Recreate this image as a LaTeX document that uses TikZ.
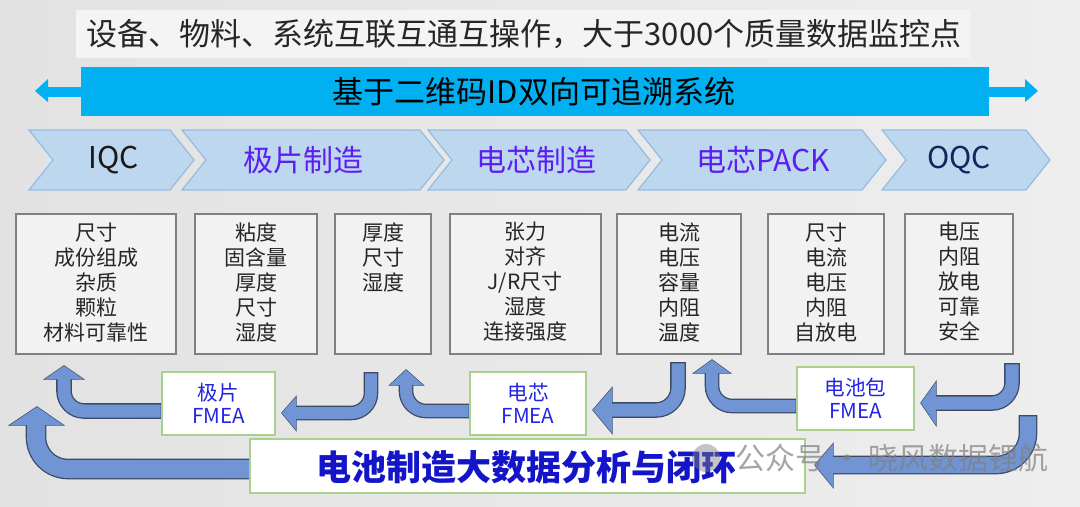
\documentclass[tikz,border=0pt]{standalone}
\usepackage{fontspec}
\setmainfont{Noto Sans CJK SC}
\usetikzlibrary{fit}
\definecolor{bgA}{RGB}{226,226,226}
\definecolor{bgB}{RGB}{238,238,238}
\definecolor{topfill}{RGB}{244,244,244}
\definecolor{barblue}{RGB}{0,176,240}
\definecolor{chevfill}{RGB}{189,215,238}
\definecolor{chevline}{RGB}{150,188,226}
\definecolor{boxfill}{RGB}{242,242,242}
\definecolor{boxline}{RGB}{128,128,128}
\definecolor{arrowfill}{RGB}{112,148,212}
\definecolor{arrowline}{RGB}{60,74,102}
\definecolor{fmealine}{RGB}{169,209,142}
\definecolor{fmeatext}{RGB}{36,36,228}
\definecolor{bigtext}{RGB}{20,20,200}
\definecolor{violet}{RGB}{92,30,242}
\definecolor{navy}{RGB}{19,39,94}
\definecolor{darktext}{RGB}{38,38,38}
\newcommand{\fs}[2]{\fontsize{#1}{#2}\selectfont}
\newcommand{\chev}[2]{\filldraw[chevstyle] (#1,130) -- (#2,130) -- (#2+24,160) -- (#2,190) -- (#1,190) -- (#1+24,160) -- cycle;}
\newcommand{\fatarrow}[6]{%
  \draw[line width=#1+1.3pt, draw=arrowline, rounded corners=#2] #3;
  \filldraw[fill=arrowfill, draw=arrowline, line width=0.65pt, line join=miter] #5 -- #4 -- #6 -- cycle;
  \draw[line width=#1, draw=arrowfill, rounded corners=#2, shorten <=0.65pt] #3;
  \fill[arrowfill] #5 -- #4 -- #6 -- cycle;}
\tikzset{
  chevstyle/.style={fill=chevfill, draw=chevline, line width=0.6pt},
  databox/.style={fill=boxfill, draw=boxline, line width=0.8pt, inner sep=0pt},
  datatext/.style={anchor=north, align=center, inner sep=0pt, text=darktext, font=\fs{10.5}{12.5}},
  fmeabox/.style={fill=white, draw=fmealine, line width=0.8pt, inner sep=0pt},
  fmeatxt/.style={align=center, inner sep=0pt, text=fmeatext, font=\fs{10.3}{11.5}},
  chevtext/.style={font=\fs{15}{18}, inner sep=0pt},
}
\begin{document}
\begin{tikzpicture}[x=0.5pt,y=-0.5pt]
\useasboundingbox (0,0) rectangle (1080,507);
\shade[left color=bgA, right color=bgB] (0,0) rectangle (1080,507);

% top statement
\node[fit={(76,10) (970,58)}, fill=topfill, inner sep=0pt] (topbox) {};
\node[font=\fs{15.5}{18}, text=darktext, inner sep=0pt] (toptext) at (524,34) {设备、物料、系统互联互通互操作，大于3000个质量数据监控点};

% traceability bar
\fill[barblue] (48,87) rectangle (82,97);
\fill[barblue] (48,79) -- (35,91) -- (48,102) -- cycle;
\fill[barblue] (988,87) rectangle (1026,97);
\fill[barblue] (1025,79) -- (1038,91) -- (1025,102) -- cycle;
\node[fit={(81,67) (989,116)}, fill=barblue, inner sep=0pt] (bar) {};
\node[font=\fs{15.5}{18}, text=black, inner sep=0pt] (bartext) at (534,92) {基于二维码ID双向可追溯系统};

% process chevrons
\chev{29}{170}
\chev{182}{420}
\chev{428}{626}
\chev{638}{862}
\chev{882}{1026}
\node[chevtext, text=black!90] (c1) at (114,160) {IQC};
\node[chevtext, text=violet] (c2) at (303,160) {极片制造};
\node[chevtext, text=violet] (c3) at (536,160) {电芯制造};
\node[chevtext, text=violet] (c4) at (763,160) {电芯PACK};
\node[chevtext, text=navy] (c5) at (959,160) {OQC};

% data boxes
\node[databox, fit={(16,214) (176,354)}] (b1) {};
\node[databox, fit={(195,214) (317,354)}] (b2) {};
\node[databox, fit={(335,214) (431,354)}] (b3) {};
\node[databox, fit={(450,214) (601,354)}] (b4) {};
\node[databox, fit={(617,214) (741,354)}] (b5) {};
\node[databox, fit={(768,214) (884,354)}] (b6) {};
\node[databox, fit={(905,214) (1013,354)}] (b7) {};
\node[datatext] (t1) at (96,222) {尺寸\\成份组成\\杂质\\颗粒\\材料可靠性};
\node[datatext] (t2) at (256,222) {粘度\\固含量\\厚度\\尺寸\\湿度};
\node[datatext] (t3) at (383,222) {厚度\\尺寸\\湿度};
\node[datatext] (t4) at (525,222) {张力\\对齐\\J/R尺寸\\湿度\\连接强度};
\node[datatext] (t5) at (679,222) {电流\\电压\\容量\\内阻\\温度};
\node[datatext] (t6) at (826,222) {尺寸\\电流\\电压\\内阻\\自放电};
\node[datatext] (t7) at (959,222) {电压\\内阻\\放电\\可靠\\安全};

% feedback arrows
\coordinate (aS) at (162,411); \coordinate (aT) at (64,366);
\fatarrow{6.5pt}{10pt}{(aS) -- (64,411) -- (64,377)}{(aT)}{(45,379)}{(83,379)}
\coordinate (bS) at (371,372); \coordinate (bT) at (282,413);
\fatarrow{6pt}{10pt}{(bS) -- (371,413) -- (294,413)}{(bT)}{(296,397)}{(296,430)}
\coordinate (cS) at (470,411); \coordinate (cT) at (406,370);
\fatarrow{6pt}{10pt}{(cS) -- (406,411) -- (406,383)}{(cT)}{(390,385)}{(423,385)}
\coordinate (dS) at (678,362); \coordinate (dT) at (593,410);
\fatarrow{6.5pt}{11pt}{(dS) -- (678,410) -- (610,410)}{(dT)}{(612,388)}{(612,433)}
\coordinate (eS) at (797,406); \coordinate (eT) at (712,360);
\fatarrow{6pt}{10pt}{(eS) -- (712,406) -- (712,371)}{(eT)}{(694,373)}{(730,373)}
\coordinate (fS) at (1012,363); \coordinate (fT) at (921,403);
\fatarrow{6.5pt}{10pt}{(fS) -- (1012,403) -- (934,403)}{(fT)}{(936,382)}{(936,425)}
\coordinate (gS) at (1028,415); \coordinate (gT) at (815,465);
\fatarrow{8pt}{16pt}{(gS) -- (1028,465) -- (831,465)}{(gT)}{(833,444)}{(833,487)}
\coordinate (hS) at (252,469); \coordinate (hT) at (37,407);
\fatarrow{9pt}{16pt}{(hS) -- (36,469) -- (36,423)}{(hT)}{(10,425)}{(63,425)}

% FMEA boxes
\node[fmeabox, fit={(162,372) (275,435)}] (f1) {};
\node[fmeatxt] (f1t) at (f1.center) {极片\\FMEA};
\node[fmeabox, fit={(470,372) (586,435)}] (f2) {};
\node[fmeatxt] (f2t) at (f2.center) {电芯\\FMEA};
\node[fmeabox, fit={(797,367) (914,430)}] (f3) {};
\node[fmeatxt] (f3t) at (f3.center) {电池包\\FMEA};
\node[fmeabox, fit={(250,439) (805,493)}] (big) {};
\node[font=\fs{17.5}{20}\bfseries, text=bigtext, inner sep=0pt] (bigt) at (526,467) {电池制造大数据分析与闭环};

% watermark
\fill[gray, opacity=0.45] (706,458) circle (7pt);
\node[font=\fs{15}{18}, text=gray, opacity=0.7, inner sep=0pt] (wm) at (892,458) {公众号 · 晓风数据锂航};
\end{tikzpicture}
\end{document}
